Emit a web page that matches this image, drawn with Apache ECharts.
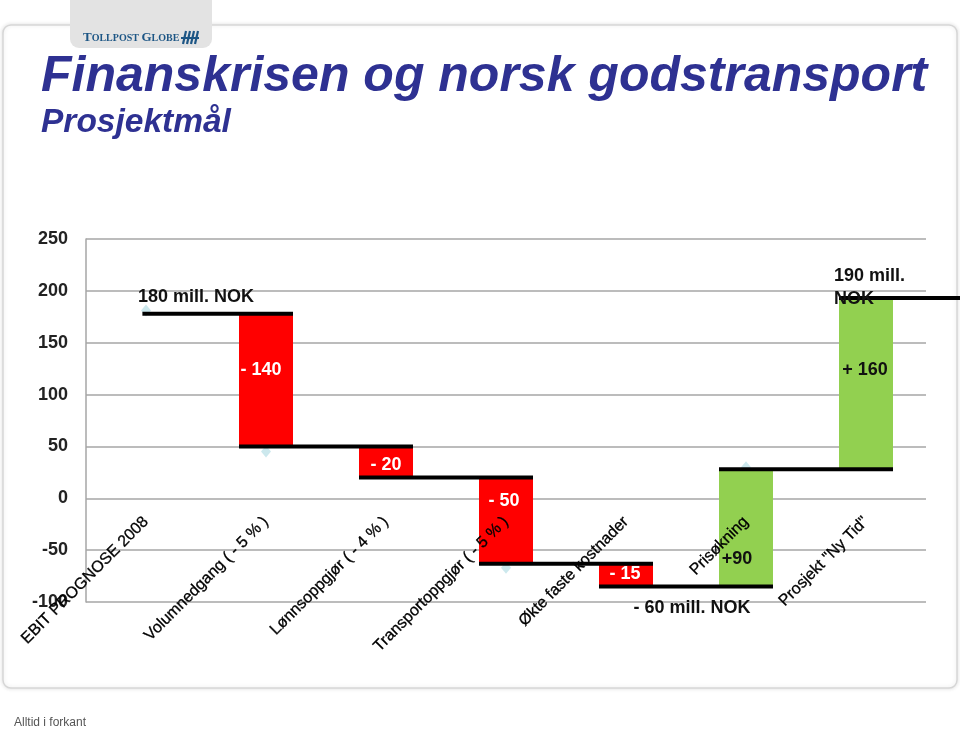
<!DOCTYPE html>
<html><head><meta charset="utf-8">
<script src="https://cdn.jsdelivr.net/npm/echarts@6/dist/echarts.min.js"></script>
<style>html,body{margin:0;padding:0;background:#fff}#c{width:960px;height:730px}</style>
</head><body><div id="c"></div>
<script>
// ---------- data ----------
const categories = ['EBIT PROGNOSE 2008', 'Volumnedgang ( - 5 % )', 'Lønnsoppgjør ( - 4 % )',
  'Transportoppgjør ( - 5 % )', 'Økte faste kostnader', 'Prisøkning', 'Prosjekt "Ny Tid"'];
const levels = [178, 50, 20, -63, -85, 28, 193];          // running level after each step
const barLabels = ['', '- 140', '- 20', '- 50', '- 15', '+90', '+ 160'];
const markerValues = [181, 45, null, -67, null, 30, null];
const yMin = -100, yMax = 250, yStep = 50;
const noteStart = '180 mill. NOK';
const noteLow = '- 60 mill. NOK';
const noteEnd = '190 mill.\nNOK';
const titleText = 'Finanskrisen og norsk godstransport';
const subtitleText = 'Prosjektmål';
const footerText = 'Alltid i forkant';

// ---------- layout tweaks (pixels) ----------
const labelNudge = [[0,0], [-5,-10], [0,3], [-2,-20], [-1,-1], [-9,31], [-1,-14]];
const FONT = '"Liberation Sans", Arial, Helvetica, sans-serif';
const GRID = {left: 86, right: 34, top: 239, bottom: 128};
const plotH = 730 - GRID.top - GRID.bottom;
const zeroOffset = -plotH * (0 - yMin) / (yMax - yMin);

const chart = echarts.init(document.getElementById('c'), null, {renderer: 'canvas'});
const stepData = levels.map((v, i) => [i, v]);

function barRender(params, api) {
  const i = api.value(0);
  if (i === 0) return null;
  const level = api.value(1), prev = levels[i - 1];
  const c = api.coord([i, level]), p = api.coord([i, prev]);
  const bw = api.size([1, 0])[0], half = bw * 0.225;
  const top = Math.min(p[1], c[1]), bot = Math.max(p[1], c[1]);
  const down = level < prev;
  const n = labelNudge[i];
  return {type: 'group', children: [
    {type: 'rect', shape: {x: c[0] - half, y: top, width: 2 * half, height: bot - top},
     style: {fill: down ? '#ff0000' : '#92d050'}},
    {type: 'text', z2: 10, style: {text: barLabels[i], x: c[0] + n[0], y: (top + bot) / 2 + n[1],
      align: 'center', verticalAlign: 'middle', font: 'bold 18px ' + FONT,
      fill: down ? '#ffffff' : '#111111'}}
  ]};
}

function stepRender(params, api) {
  const i = api.value(0);
  const c = api.coord([i, api.value(1)]);
  const bw = api.size([1, 0])[0], half = bw * 0.225;
  const last = levels.length - 1;
  const x0 = i === 0 ? c[0] - bw * 0.03 : c[0] - half;
  const x1 = i < last ? c[0] + bw + half : c[0] + bw * 0.8;
  const children = [{type: 'line', shape: {x1: x0, y1: c[1], x2: x1, y2: c[1]},
    style: {stroke: '#000', lineWidth: 4}}];
  const nf = 'bold 18px ' + FONT;
  if (i === 0) children.push({type: 'text', style: {text: noteStart, x: c[0] - 8, y: c[1] - 17,
    align: 'left', verticalAlign: 'middle', font: nf, fill: '#111'}});
  if (i === 4) children.push({type: 'text', style: {text: noteLow, x: c[0] + bw * 0.55, y: c[1] + 22,
    align: 'center', verticalAlign: 'middle', font: nf, fill: '#111'}});
  if (i === last) children.push({type: 'text', style: {text: noteEnd, x: c[0] - half - 5, y: c[1] - 11,
    align: 'left', verticalAlign: 'middle', font: nf, lineHeight: 23, fill: '#111'}});
  return {type: 'group', children};
}

const option = {
  animation: false,
  backgroundColor: '#ffffff',
  grid: Object.assign({containLabel: false, outerBoundsMode: 'none'}, GRID),
  xAxis: {
    type: 'category', data: categories, boundaryGap: true, offset: zeroOffset, z: 10,
    axisLine: {show: false, onZero: false},
    axisTick: {show: false},
    axisLabel: {interval: 0, rotate: 45, margin: 21, fontSize: 16, fontFamily: FONT, color: '#000',
      textBorderColor: '#000', textBorderWidth: 0.3},
    splitLine: {show: false}
  },
  yAxis: {
    type: 'value', min: yMin, max: yMax, interval: yStep,
    axisLine: {show: true, lineStyle: {color: '#a6a6a6', width: 1.5}},
    axisTick: {show: false},
    axisLabel: {margin: 18, fontSize: 18, fontWeight: 'bold', fontFamily: FONT, color: '#222'},
    splitLine: {show: true, lineStyle: {color: '#a6a6a6', width: 1.5}}
  },
  series: [
    {type: 'scatter', data: markerValues.map(v => v == null ? '-' : v), symbol: 'diamond',
     symbolSize: [10, 12], itemStyle: {color: '#bfe2e8'}, z: 1},
    {type: 'custom', renderItem: barRender, data: stepData, z: 2, clip: false},
    {type: 'custom', renderItem: stepRender, data: stepData, z: 3, clip: false}
  ],
  graphic: [
    // slide frame
    {type: 'rect', z: -10, shape: {x: 3, y: 25, width: 954, height: 663, r: 8},
     style: {fill: '#fff', stroke: '#d6d6d6', lineWidth: 1.5, shadowBlur: 4, shadowColor: 'rgba(0,0,0,0.12)'}},
    // logo tab
    {type: 'rect', z: -5, shape: {x: 70, y: -10, width: 142, height: 58, r: 9},
     style: {fill: '#e3e3e3'}},
    {type: 'text', z: -4, style: {x: 83, y: 38, verticalAlign: 'middle', align: 'left',
      text: '{b|T}{s|OLLPOST }{b|G}{s|LOBE}',
      rich: {b: {fontSize: 13, fontWeight: 'bold', fontFamily: '"Liberation Serif", "DejaVu Serif", serif', fill: '#1d5685'},
             s: {fontSize: 10, fontWeight: 'bold', fontFamily: '"Liberation Serif", "DejaVu Serif", serif', fill: '#1d5685'}}}},
    {type: 'polyline', z: -4, shape: {points: [[183, 44], [186, 31]]}, style: {stroke: '#1d5685', lineWidth: 2.2}},
    {type: 'polyline', z: -4, shape: {points: [[187, 44], [190, 31]]}, style: {stroke: '#1d5685', lineWidth: 2.2}},
    {type: 'polyline', z: -4, shape: {points: [[191, 44], [194, 31]]}, style: {stroke: '#1d5685', lineWidth: 2.2}},
    {type: 'polyline', z: -4, shape: {points: [[195, 44], [198, 31]]}, style: {stroke: '#1d5685', lineWidth: 2.2}},
    {type: 'polyline', z: -4, shape: {points: [[181, 38], [199, 38]]}, style: {stroke: '#1d5685', lineWidth: 2}},
    // titles
    {type: 'text', style: {x: 41, y: 77, text: titleText, align: 'left', verticalAlign: 'middle',
      font: 'italic bold 50px ' + FONT, fill: '#2e3192'}},
    {type: 'text', style: {x: 41, y: 123, text: subtitleText, align: 'left', verticalAlign: 'middle',
      font: 'italic bold 33.5px ' + FONT, fill: '#2e3192'}},
    // footer
    {type: 'text', style: {x: 14, y: 723, text: footerText, align: 'left', verticalAlign: 'middle',
      font: '12px "Liberation Sans Narrow", "Liberation Sans", Arial, sans-serif', fill: '#555'}}
  ]
};
chart.setOption(option);
</script></body></html>
